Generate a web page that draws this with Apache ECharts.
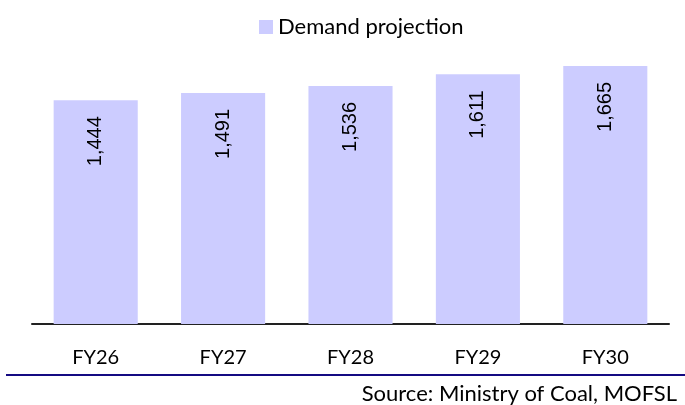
<!DOCTYPE html>
<html>
<head>
<meta charset="utf-8">
<script src="https://cdn.jsdelivr.net/npm/echarts@6/dist/echarts.min.js"></script>
<style>
  html, body { margin: 0; padding: 0; background: #fff; }
  #chart { width: 685px; height: 405px; }
</style>
</head>
<body>
<div id="chart"></div>
<script>
var categories = ["FY26", "FY27", "FY28", "FY29", "FY30"];
var demand = [1444, 1491, 1536, 1611, 1665];
var seriesName = "Demand projection";
var sourceText = "Source: Ministry of Coal, MOFSL";

var chart = echarts.init(document.getElementById("chart"));
chart.setOption({
  animation: false,
  textStyle: { fontFamily: "Lato" },
  legend: {
    data: [seriesName],
    left: 254,
    top: 11,
    itemWidth: 14,
    itemHeight: 14,
    itemGap: 6,
    icon: "rect",
    textStyle: { fontSize: 22, color: "#000", fontFamily: "Lato" }
  },
  title: {
    text: sourceText,
    right: 3,
    bottom: -5,
    textStyle: { fontSize: 22, fontWeight: "normal", color: "#000", fontFamily: "Lato" }
  },
  graphic: [
    {
      type: "line",
      shape: { x1: 6, y1: 375, x2: 685, y2: 375 },
      style: { stroke: "#140a82", lineWidth: 2 }
    }
  ],
  grid: { left: 32, right: 16, top: 14, bottom: 81 },
  xAxis: {
    type: "category",
    data: categories,
    axisLine: { lineStyle: { color: "#222", width: 2 } },
    axisTick: { show: false },
    axisLabel: { color: "#000", fontSize: 20, margin: 24, fontFamily: "Lato" }
  },
  yAxis: {
    type: "value",
    min: 0,
    max: 2000,
    show: false,
    splitLine: { show: false }
  },
  series: [
    {
      name: seriesName,
      type: "bar",
      data: demand,
      barWidth: "66%",
      itemStyle: { color: "#ccccff" },
      label: {
        show: true,
        position: "insideTop",
        rotate: 90,
        align: "right",
        verticalAlign: "middle",
        distance: 16,
        fontSize: 20,
        color: "#000",
        fontFamily: "Liberation Sans",
        formatter: function (p) {
          return p.value.toLocaleString("en-US");
        }
      }
    }
  ]
});
</script>
</body>
</html>
